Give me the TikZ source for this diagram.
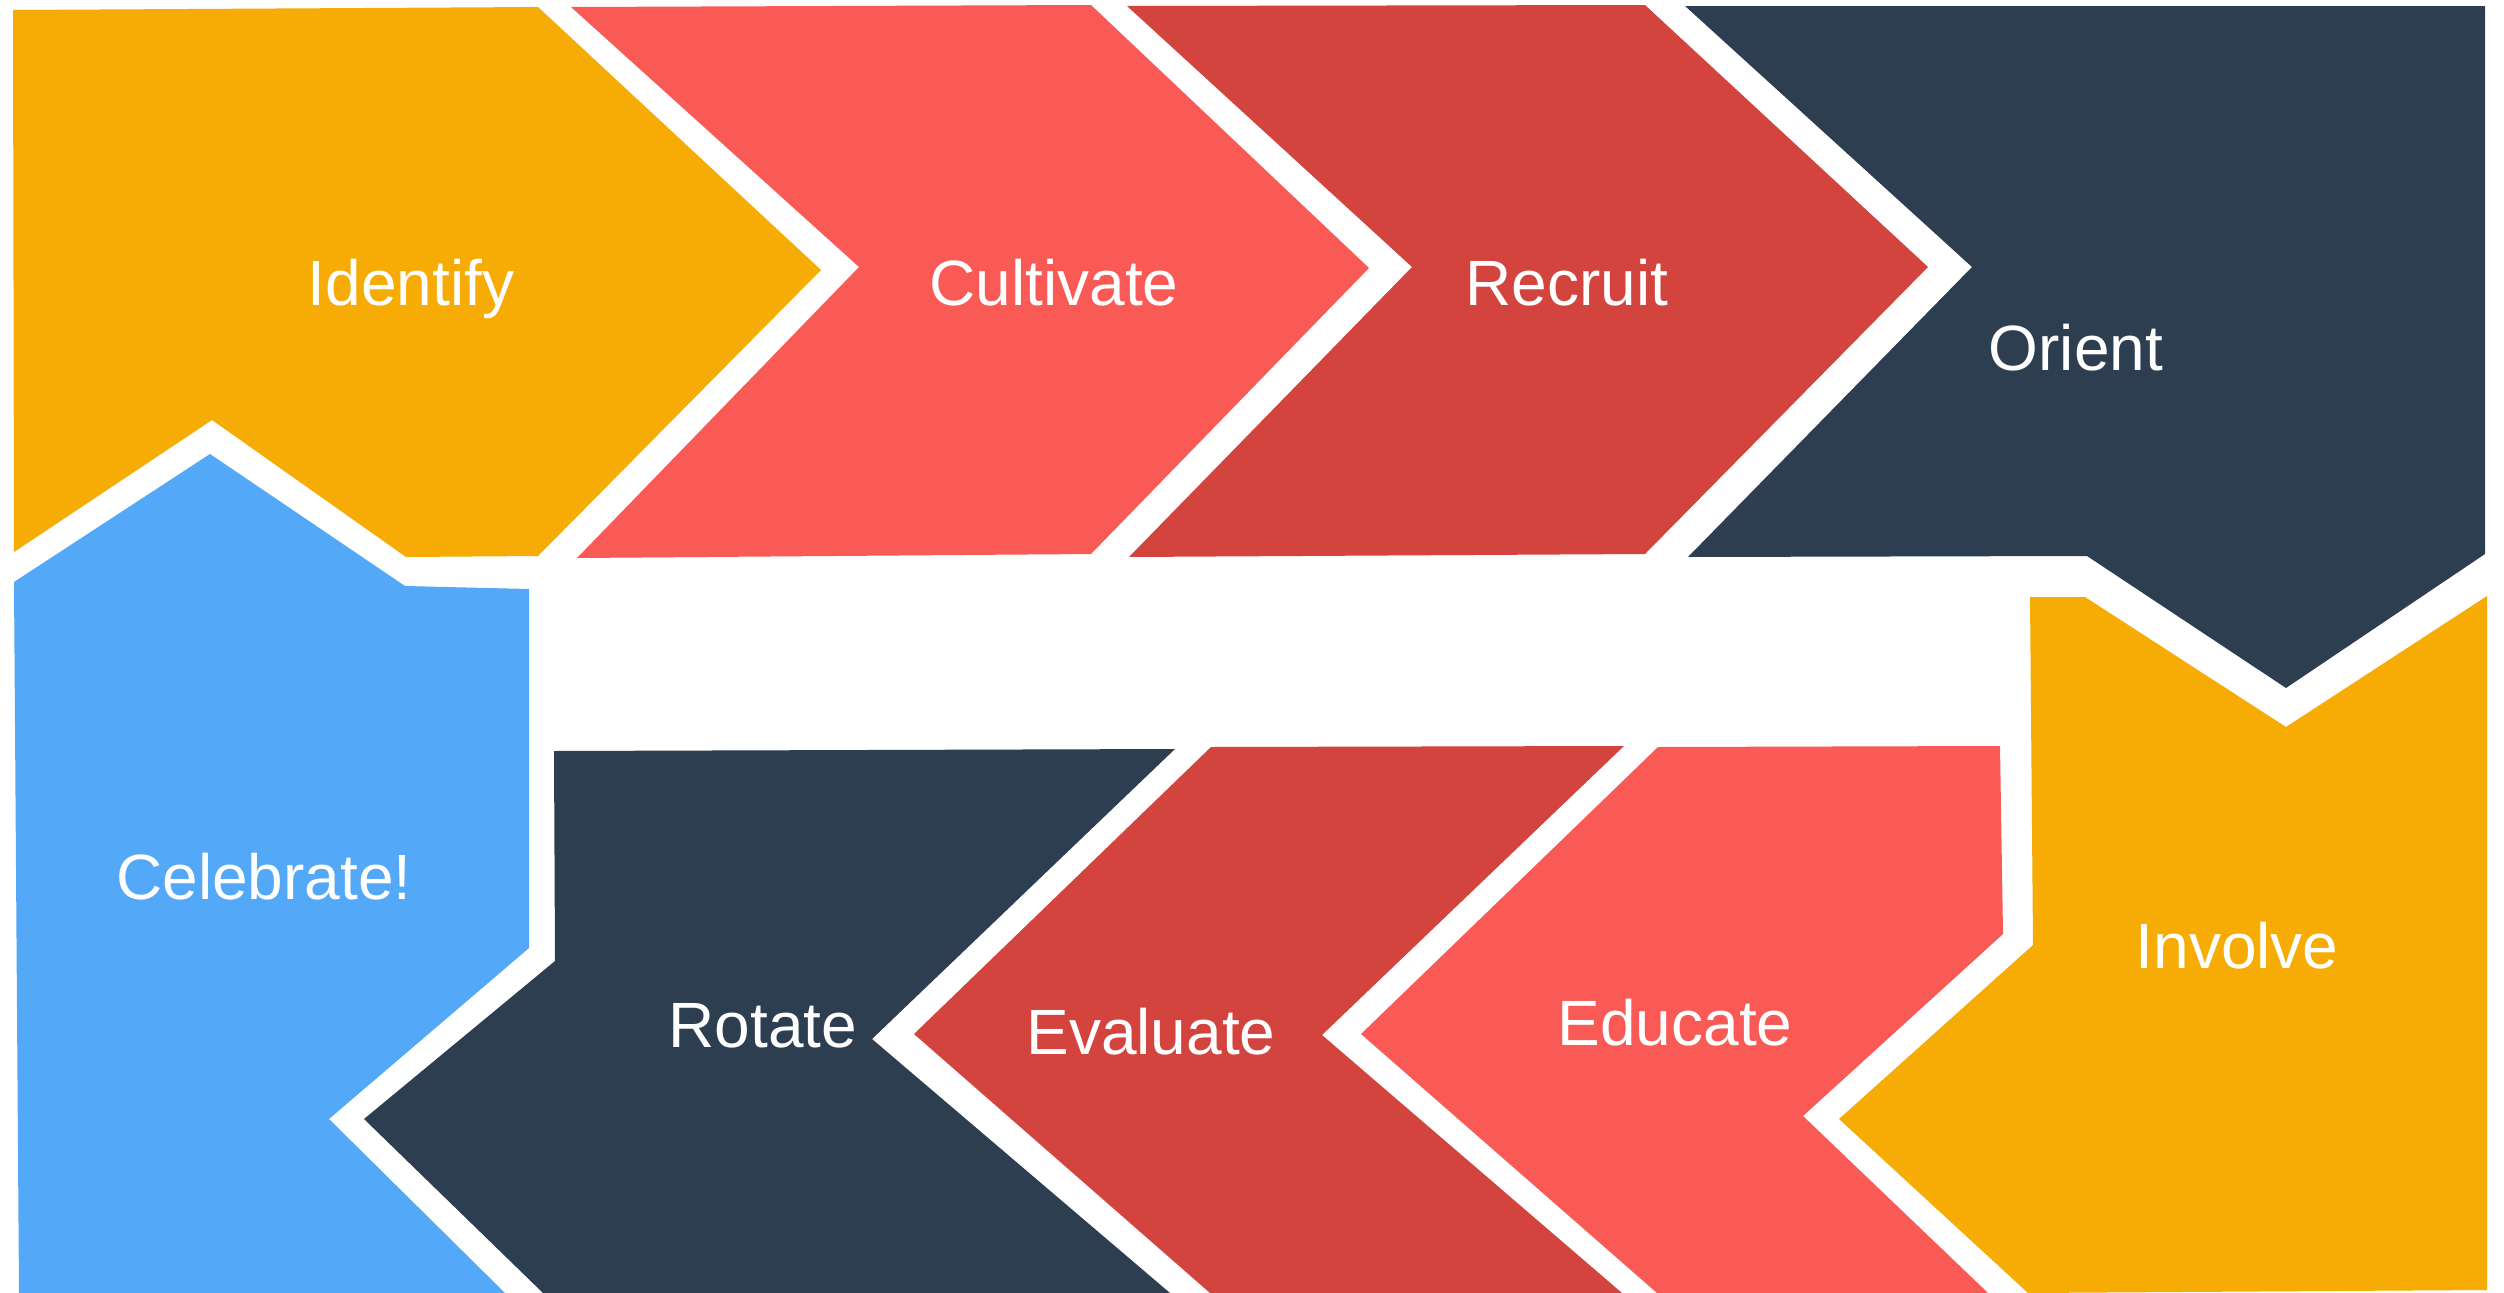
\documentclass[tikz,border=0pt]{standalone}
\usepackage{fontspec}
\setmainfont{Liberation Sans}
\definecolor{gold}{HTML}{F6AC05}
\definecolor{coral}{HTML}{FA5A55}
\definecolor{brick}{HTML}{D3443F}
\definecolor{navy}{HTML}{2C3E50}
\definecolor{sky}{HTML}{53A8F7}
\tikzset{steptext/.style={text=white,inner sep=0pt,anchor=base,font=\fontsize{64}{76}\selectfont}}
\begin{document}
\begin{tikzpicture}[x=1pt,y=-1pt]
        \useasboundingbox[fill=white] (0,0) rectangle (2504,1293);
        % top row, left to right
        \fill[gold] (13,10) -- (538,7) -- (821,270) -- (538,556) -- (406,557) -- (212,420) -- (14,552) -- cycle;
        \fill[coral] (571,7) -- (1091,5) -- (1369,268) -- (1091,554) -- (577,558) -- (859,267) -- cycle;
        \fill[brick] (1127,6) -- (1645,5) -- (1928,267) -- (1645,554) -- (1129,557) -- (1412,267) -- cycle;
        \fill[navy] (1685,6) -- (2485,6) -- (2485,554) -- (2286,688) -- (2087,556) -- (1688,557) -- (1972,267) -- cycle;
        % right column
        \fill[gold] (2030,597) -- (2085,597) -- (2286,727) -- (2487,596) -- (2487,1290) -- (2028,1293) -- (1839,1119) -- (2033,945) -- cycle;
        % bottom row, right to left
        \fill[coral] (1658,747) -- (2000,746) -- (2003,934) -- (1803,1116) -- (1988,1293) -- (1657,1293) -- (1361,1034) -- cycle;
        \fill[brick] (1211,747) -- (1624,746) -- (1322,1035) -- (1622,1293) -- (1210,1293) -- (914,1034) -- cycle;
        \fill[navy] (554,751) -- (1175,749) -- (872,1039) -- (1170,1293) -- (543,1293) -- (364,1119) -- (555,961) -- cycle;
        % left column
        \fill[sky] (14,582) -- (210,454) -- (405,586) -- (529,589) -- (529,948) -- (329,1119) -- (505,1293) -- (19,1293) -- cycle;
        % step names
        \node[steptext] (identify) at (411,305) {Identify};
        \node[steptext] (cultivate) at (1054,305) {Cultivate};
        \node[steptext] (recruit) at (1567,305) {Recruit};
        \node[steptext] (orient) at (2076,370) {Orient};
        \node[steptext] (involve) at (2237,968) {Involve};
        \node[steptext] (educate) at (1675,1045) {Educate};
        \node[steptext] (evaluate) at (1151,1054) {Evaluate};
        \node[steptext] (rotate) at (763,1047) {Rotate};
        \node[steptext] (celebrate) at (264,899) {Celebrate!};
    \end{tikzpicture}
\end{document}
